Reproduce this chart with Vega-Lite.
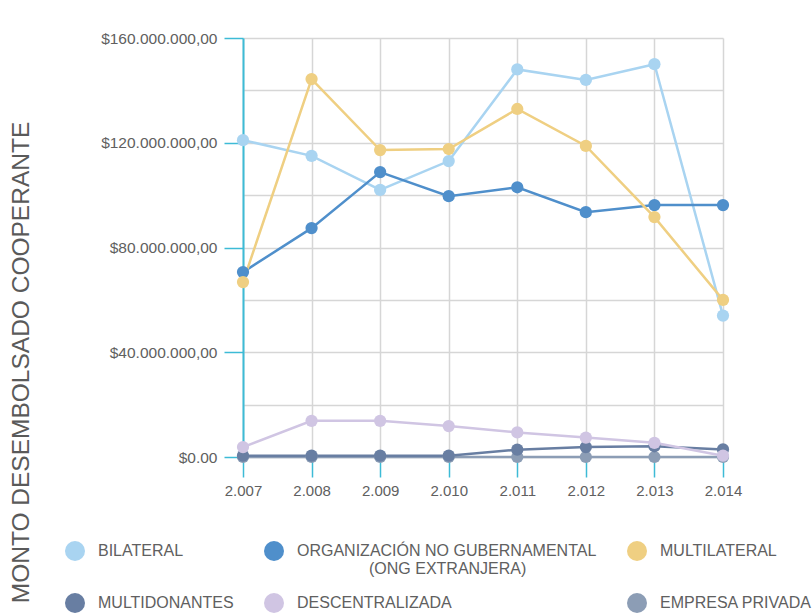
{
  "$schema": "https://vega.github.io/schema/vega-lite/v6.json",
  "width": 480,
  "height": 419,
  "autosize": {"type": "none"},
  "padding": {"left": 243, "top": 38, "right": 89, "bottom": 156},
  "background": "white",
  "config": {
    "view": {"stroke": null},
    "font": "Liberation Sans",
    "axis": {"labelFont": "Liberation Sans", "titleFont": "Liberation Sans"},
    "legend": {"labelFont": "Liberation Sans"}
  },
  "data": {
    "values": [
      {"year": "2.007", "serie": "BILATERAL", "monto": 121000000},
      {"year": "2.008", "serie": "BILATERAL", "monto": 115000000},
      {"year": "2.009", "serie": "BILATERAL", "monto": 102000000},
      {"year": "2.010", "serie": "BILATERAL", "monto": 113000000},
      {"year": "2.011", "serie": "BILATERAL", "monto": 148000000},
      {"year": "2.012", "serie": "BILATERAL", "monto": 144000000},
      {"year": "2.013", "serie": "BILATERAL", "monto": 150000000},
      {"year": "2.014", "serie": "BILATERAL", "monto": 54000000},
      {"year": "2.007", "serie": "ONG", "monto": 70600000},
      {"year": "2.008", "serie": "ONG", "monto": 87400000},
      {"year": "2.009", "serie": "ONG", "monto": 108800000},
      {"year": "2.010", "serie": "ONG", "monto": 99600000},
      {"year": "2.011", "serie": "ONG", "monto": 103000000},
      {"year": "2.012", "serie": "ONG", "monto": 93500000},
      {"year": "2.013", "serie": "ONG", "monto": 96200000},
      {"year": "2.014", "serie": "ONG", "monto": 96200000},
      {"year": "2.007", "serie": "MULTILATERAL", "monto": 66800000},
      {"year": "2.008", "serie": "MULTILATERAL", "monto": 144300000},
      {"year": "2.009", "serie": "MULTILATERAL", "monto": 117200000},
      {"year": "2.010", "serie": "MULTILATERAL", "monto": 117600000},
      {"year": "2.011", "serie": "MULTILATERAL", "monto": 132900000},
      {"year": "2.012", "serie": "MULTILATERAL", "monto": 118800000},
      {"year": "2.013", "serie": "MULTILATERAL", "monto": 91600000},
      {"year": "2.014", "serie": "MULTILATERAL", "monto": 60000000},
      {"year": "2.007", "serie": "EMPRESA PRIVADA", "monto": 0},
      {"year": "2.008", "serie": "EMPRESA PRIVADA", "monto": 0},
      {"year": "2.009", "serie": "EMPRESA PRIVADA", "monto": 0},
      {"year": "2.010", "serie": "EMPRESA PRIVADA", "monto": 0},
      {"year": "2.011", "serie": "EMPRESA PRIVADA", "monto": 0},
      {"year": "2.012", "serie": "EMPRESA PRIVADA", "monto": 0},
      {"year": "2.013", "serie": "EMPRESA PRIVADA", "monto": 0},
      {"year": "2.014", "serie": "EMPRESA PRIVADA", "monto": 0},
      {"year": "2.007", "serie": "MULTIDONANTES", "monto": 500000},
      {"year": "2.008", "serie": "MULTIDONANTES", "monto": 500000},
      {"year": "2.009", "serie": "MULTIDONANTES", "monto": 500000},
      {"year": "2.010", "serie": "MULTIDONANTES", "monto": 500000},
      {"year": "2.011", "serie": "MULTIDONANTES", "monto": 2800000},
      {"year": "2.012", "serie": "MULTIDONANTES", "monto": 3800000},
      {"year": "2.013", "serie": "MULTIDONANTES", "monto": 4100000},
      {"year": "2.014", "serie": "MULTIDONANTES", "monto": 2900000},
      {"year": "2.007", "serie": "DESCENTRALIZADA", "monto": 3800000},
      {"year": "2.008", "serie": "DESCENTRALIZADA", "monto": 13800000},
      {"year": "2.009", "serie": "DESCENTRALIZADA", "monto": 13800000},
      {"year": "2.010", "serie": "DESCENTRALIZADA", "monto": 11800000},
      {"year": "2.011", "serie": "DESCENTRALIZADA", "monto": 9400000},
      {"year": "2.012", "serie": "DESCENTRALIZADA", "monto": 7400000},
      {"year": "2.013", "serie": "DESCENTRALIZADA", "monto": 5400000},
      {"year": "2.014", "serie": "DESCENTRALIZADA", "monto": 500000}
    ]
  },
  "encoding": {
    "x": {
      "field": "year", "type": "ordinal",
      "scale": {"type": "point", "padding": 0},
      "axis": {
        "title": null, "labelAngle": 0, "domain": false,
        "grid": true, "gridColor": "#D6D6D6", "gridWidth": 1.5,
        "tickColor": "#3DBBD6", "tickWidth": 1.5, "tickSize": 20,
        "labelPadding": 6, "labelFontSize": 15, "labelColor": "#606060"
      }
    },
    "y": {
      "field": "monto", "type": "quantitative",
      "scale": {"domain": [0, 160000000], "nice": false},
      "axis": {
        "title": "MONTO DESEMBOLSADO COOPERANTE",
        "values": [0, 20000000, 40000000, 60000000, 80000000, 100000000, 120000000, 140000000, 160000000],
        "labelExpr": "datum.value == 0 ? '$0.00' : (datum.value % 40000000 == 0 ? '$' + format(datum.value / 1000000, 'd') + '.000.000,00' : '')",
        "tickOpacity": {"condition": {"test": "datum.value % 40000000 == 0", "value": 1}, "value": 0},
        "tickColor": "#3DBBD6", "tickWidth": 1.5, "tickSize": 19,
        "domainColor": "#3DBBD6", "domainWidth": 2,
        "grid": true, "gridColor": "#D6D6D6", "gridWidth": 1.5,
        "labelPadding": 7, "labelFontSize": 15.5, "labelColor": "#606060",
        "titleFontSize": 24.5, "titleFontWeight": "normal", "titleColor": "#5a5a5a",
        "titleX": -222, "titleY": 324, "titleAngle": -90,
        "titleAlign": "center", "titleBaseline": "middle"
      }
    },
    "color": {
      "field": "serie", "type": "nominal",
      "scale": {
        "domain": ["BILATERAL", "ONG", "MULTILATERAL", "MULTIDONANTES", "DESCENTRALIZADA", "EMPRESA PRIVADA"],
        "range": ["#A9D4F1", "#4F8FCB", "#EFCF82", "#687EA2", "#D0C5E3", "#8C9DB5"]
      },
      "legend": {
        "title": null, "orient": "none", "legendX": -178, "legendY": 503,
        "direction": "horizontal", "columns": 3, "columnPadding": 30, "rowPadding": 16,
        "padding": 0, "symbolType": "circle", "symbolSize": 400, "symbolStrokeWidth": 0,
        "labelFontSize": 16, "labelColor": "#606060", "labelOffset": 13, "labelLimit": 400,
        "labelExpr": "datum.label == 'ONG' ? ['ORGANIZACIÓN NO GUBERNAMENTAL', '\u2800\u2800\u2800\u2800\u2800\u2800(ONG EXTRANJERA)'] : (datum.label == 'BILATERAL' || datum.label == 'MULTILATERAL' ? [datum.label, '\u2800'] : datum.label)"
      }
    }
  },
  "layer": [
    {
      "mark": {"type": "line", "strokeWidth": 2.5}
    },
    {
      "mark": {"type": "point", "filled": true, "opacity": 1, "size": 150, "shape": "circle"}
    }
  ]
}
